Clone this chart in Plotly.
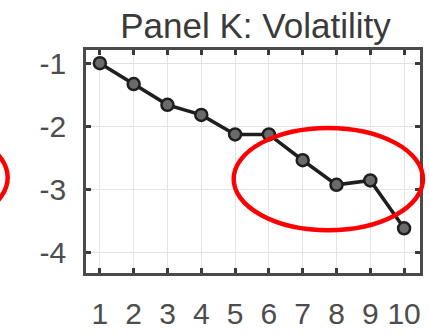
import plotly.graph_objects as go

# Decile portfolios and their volatility loadings
deciles = [1, 2, 3, 4, 5, 6, 7, 8, 9, 10]
volatility = [-0.99, -1.32, -1.65, -1.81, -2.12, -2.12, -2.53, -2.92, -2.85, -3.61]
x_ticks = [1, 2, 3, 4, 5, 6, 7, 8, 9, 10]
y_ticks = [-1, -2, -3, -4]

W, H = 429, 336
L, R, T, B = 86, 6, 50, 57
PW, PH = W - L - R, H - T - B


def px_to_paper_x(px):
    return (px - L) / PW


def px_to_paper_y(py):
    return (H - B - py) / PH


fig = go.Figure()
fig.add_trace(go.Scatter(
    x=deciles, y=volatility, mode="lines+markers",
    line=dict(color="#1e1e1e", width=3.5),
    marker=dict(size=12, color="#6a6a6a", line=dict(color="#1e1e1e", width=2.5)),
    showlegend=False,
))

# Highlight ellipses
ellipses = [(235, 130, 426, 235), (-180, 128, 7, 234)]
for x0, y0, x1, y1 in ellipses:
    fig.add_shape(type="circle", xref="paper", yref="paper",
                  x0=px_to_paper_x(x0), x1=px_to_paper_x(x1),
                  y0=px_to_paper_y(y1), y1=px_to_paper_y(y0),
                  line=dict(color="#ff0000", width=4.5), layer="above")

axis_common = dict(
    showgrid=True, gridcolor="#e3e3e3", gridwidth=1,
    showline=True, linecolor="#4a4a4a", linewidth=2.5, mirror="ticks",
    ticks="inside", ticklen=5, tickwidth=2.5, tickcolor="#3a3a3a",
    tickfont=dict(family="Liberation Sans, Arial", size=30, color="#4d4d4d"),
    zeroline=False,
)

fig.update_layout(
    width=W, height=H,
    margin=dict(l=L, r=R, t=T, b=B),
    paper_bgcolor="white", plot_bgcolor="white",
    title=dict(text="Panel K: Volatility", x=px_to_paper_x(257), xref="paper",
               xanchor="center", y=1 - 26 / H, yanchor="middle",
               font=dict(family="Liberation Sans, Arial", size=35, color="#3a3a3a")),
    xaxis=dict(range=[0.59, 10.47], tickvals=x_ticks, ticktext=[str(v) for v in x_ticks],
               ticklabelstandoff=12, **axis_common),
    yaxis=dict(range=[-4.32, -0.78], tickvals=y_ticks, ticktext=[str(v) for v in y_ticks],
               ticklabelstandoff=11, **axis_common),
)

fig.write_html("out.html")
